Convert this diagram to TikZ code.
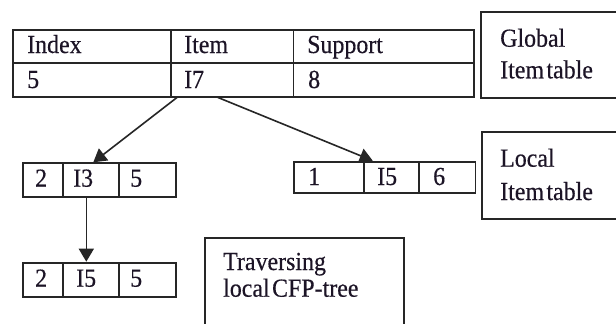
\documentclass[tikz,border=0pt]{standalone}
\usepackage{fontspec}
\setmainfont{Liberation Serif}[WordSpace=0.4, FakeStretch=0.92, FakeBold=0.4]
\usetikzlibrary{arrows.meta,calc}
\definecolor{linec}{HTML}{262626}
\definecolor{textc}{HTML}{1C1426}
\begin{document}
\begin{tikzpicture}[x=1pt,y=-1pt,
  cellst/.style={draw=linec, line width=1.8pt, anchor=north west, inner sep=0pt, fill=white},
  boxst/.style={draw=linec, line width=1.8pt},
  txt/.style={anchor=base west, inner sep=0pt, text=textc, font=\fontsize{26}{30}\selectfont},
  arr/.style={draw=linec, line width=1.6pt, -{Triangle[length=13pt,width=15pt]}}
]
\useasboundingbox (0,0) rectangle (616,324);
\clip (0,0) rectangle (616,324);
\fill[white] (0,0) rectangle (616,324);

% Global item table
\node[cellst, minimum width=158.3pt, minimum height=33pt] (g11) at (11.7,29.3) {};
\node[cellst, minimum width=122.5pt, minimum height=33pt] (g12) at (170,29.3) {};
\node[cellst, minimum width=180.8pt, minimum height=33pt] (g13) at (292.5,29.3) {};
\node[cellst, minimum width=158.3pt, minimum height=33.4pt] (g21) at (11.7,62.3) {};
\node[cellst, minimum width=122.5pt, minimum height=33.4pt] (g22) at (170,62.3) {};
\node[cellst, minimum width=180.8pt, minimum height=33.4pt] (g23) at (292.5,62.3) {};
\node[txt] (t11) at (27,53) {Index};
\node[txt] (t12) at (184,53) {Item};
\node[txt] (t13) at (307,53) {Support};
\node[txt] (t21) at (27,88) {5};
\node[txt] (t22) at (184,88) {I7};
\node[txt] (t23) at (308,88) {8};

% Local table (left)
\node[cellst, minimum width=40pt, minimum height=33.4pt] (l1) at (22.3,162.3) {};
\node[cellst, minimum width=56pt, minimum height=33.4pt] (l2) at (62.3,162.3) {};
\node[cellst, minimum width=56.7pt, minimum height=33.4pt] (l3) at (118.3,162.3) {};
\node[txt] (lt1) at (35,186.7) {2};
\node[txt] (lt2) at (73,186.7) {I3};
\node[txt] (lt3) at (130,186.7) {5};

% Local table (right)
\node[cellst, minimum width=70pt, minimum height=31.6pt] (r1) at (292.7,160.7) {};
\node[cellst, minimum width=55.6pt, minimum height=31.6pt] (r2) at (362.7,160.7) {};
\node[cellst, minimum width=56.2pt, minimum height=31.6pt] (r3) at (418.3,160.7) {};
\node[txt] (rt1) at (308,185) {1};
\node[txt] (rt2) at (377,185) {I5};
\node[txt] (rt3) at (433,185) {6};

% Bottom table
\node[cellst, minimum width=40pt, minimum height=34pt] (b1) at (22.3,261.7) {};
\node[cellst, minimum width=56pt, minimum height=34pt] (b2) at (62.3,261.7) {};
\node[cellst, minimum width=56.7pt, minimum height=34pt] (b3) at (118.3,261.7) {};
\node[txt] (bt1) at (35,286.7) {2};
\node[txt] (bt2) at (76,286.7) {I5};
\node[txt] (bt3) at (130,286.7) {5};

% Label boxes
\node[boxst, anchor=north west, inner sep=0pt, minimum width=145pt, minimum height=86pt] (gbox) at (480,10.7) {};
\node[txt] (gl1) at (500,46.7) {Global};
\node[txt] (gl2) at (500,78.3) {Item table};
\node[boxst, anchor=north west, inner sep=0pt, minimum width=145pt, minimum height=87.6pt] (lbox) at (480.7,130.7) {};
\node[txt] (ll1) at (500,166.7) {Local};
\node[txt] (ll2) at (500,200) {Item table};
\node[boxst, anchor=north west, inner sep=0pt, minimum width=199.3pt, minimum height=100pt] (tbox) at (204,237.3) {};
\node[txt] (tl1) at (223,270) {Traversing};
\node[txt] (tl2) at (223,296.7) {local CFP-tree};

% Arrows
\draw[arr] ($(g22.south west)+(7,0)$) -- ($(l2.north west)+(31,0)$);
\draw[arr] ($(g22.south west)+(48,0)$) -- ($(r2.north west)+(10,0)$);
\draw[arr] ($(l2.south west)+(24,0)$) -- ($(b2.north west)+(24,0)$);
\end{tikzpicture}
\end{document}
